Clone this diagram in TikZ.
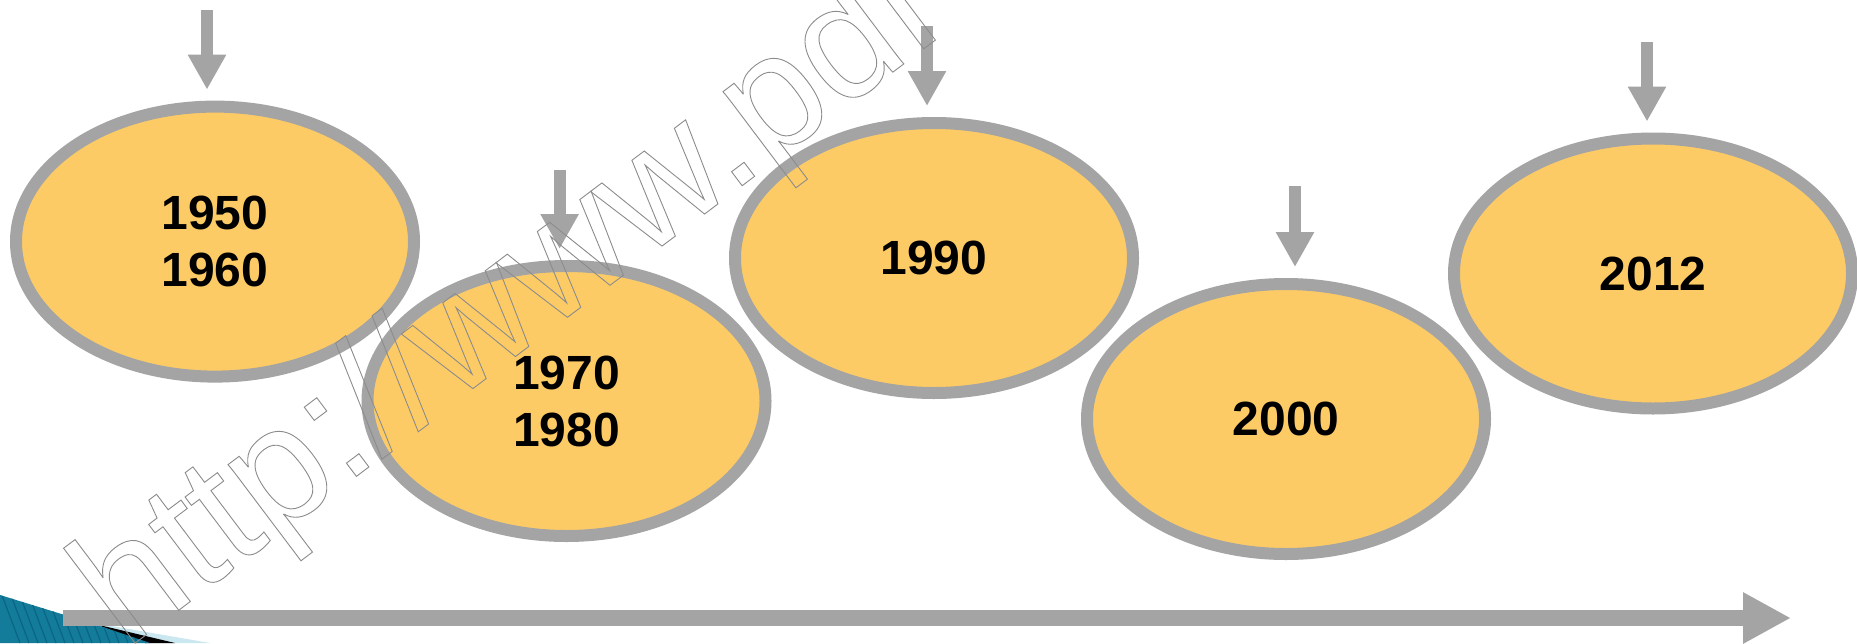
\documentclass[tikz,border=0pt]{standalone}
\usepackage{fontspec}
\setmainfont{Liberation Sans}
\usetikzlibrary{shapes.geometric,arrows.meta}
\definecolor{fillyel}{HTML}{FDCB66}
\definecolor{lgray}{HTML}{A4A4A4}
\definecolor{tealc}{HTML}{127C9A}
\definecolor{tealdark}{HTML}{0B6582}
\definecolor{lblue}{HTML}{CBE7F0}
\tikzset{
  yearell/.style={ellipse, draw=lgray, line width=12pt, fill=fillyel,
    minimum width=398pt, minimum height=270pt, inner sep=0pt, align=center,
    font=\fontsize{48}{57}\selectfont\bfseries},
  downarr/.style={draw=lgray, line width=12pt,
    -{Triangle[length=35pt,width=36pt]}, shorten >=11pt},
  axisarr/.style={draw=lgray, line width=16pt,
    -{Triangle[length=48pt,width=48pt]}},
}
\begin{document}
\begin{tikzpicture}[x=1pt,y=-1pt]
\useasboundingbox[fill=white] (0,0) rectangle (1857,643);
% corner decoration
\fill[lblue] (100,624) -- (210,643) -- (150,643) -- cycle;
\fill[black] (95,624) -- (175,643) -- (145,643) -- cycle;
\fill[tealc] (0,595) -- (97,625) -- (150,643) -- (0,643) -- cycle;
\begin{scope}
\clip (0,595) -- (97,625) -- (150,643) -- (0,643) -- cycle;
\foreach \i in {0,9,...,160}{\draw[tealdark,line width=1.2pt] (\i,590) -- (\i+20,643);}
\end{scope}
% ellipses
\node[yearell] (e1) at (215,241.6) {1950\\1960};
\node[yearell] (e2) at (566.5,401) {1970\\1980};
\node[yearell] (e3) at (934,258) {1990};
\node[yearell] (e4) at (1286,419) {2000};
\node[yearell] (e5) at (1653,273.5) {2012};
% down arrows
\coordinate (a1) at (207,10);
\coordinate (a2) at (559.6,170);
\coordinate (a3) at (927,26);
\coordinate (a4) at (1295,186);
\coordinate (a5) at (1647,42);
\draw[downarr] (a1) -- (a1 |- e1.north);
\draw[downarr] (a2) -- (a2 |- e2.north);
\draw[downarr] (a3) -- (a3 |- e3.north);
\draw[downarr] (a4) -- (a4 |- e4.north);
\draw[downarr] (a5) -- (a5 |- e5.north);
% time axis
\coordinate (ax0) at (63,618);
\coordinate (ax1) at (1791,618);
\draw[axisarr] (ax0) -- (ax1);
% watermark
\node[anchor=base west, rotate=37, inner sep=0pt, outer sep=0pt] (wm) at (126,650)
  {\special{pdf:literal direct 1 Tr 0.9 w 0.55 G}\fontsize{164}{164}\selectfont http://www.pdf\special{pdf:literal direct 0 Tr 0 G}};
\end{tikzpicture}
\end{document}
